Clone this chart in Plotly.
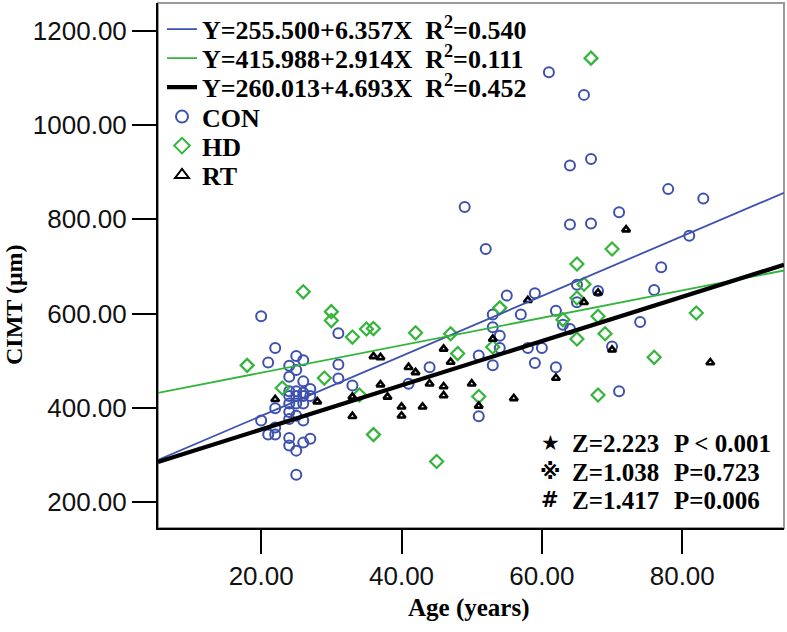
import plotly.graph_objects as go

# ---- data ----
con_age = [20, 22, 21, 25, 26, 24, 25, 24, 26, 24, 25, 26, 27, 24, 25, 26, 27, 24, 25, 26,
           22, 24, 25, 26, 20, 22, 21, 22, 24, 24, 25, 26, 27, 25, 24,
           31, 31, 31, 33, 41, 44, 49, 51, 51, 52, 53, 53, 53, 54, 54, 55, 57, 58, 59, 59,
           60, 61, 62, 62, 63, 64, 64, 64, 65, 65, 66, 67, 67, 68, 70, 71, 71, 74, 76, 77,
           78, 81, 83]
con_cimt = [594, 527, 496, 510, 501, 489, 480, 466, 456, 435, 435, 432, 440, 425, 425, 425, 425, 409, 409, 409,
            399, 391, 383, 373, 373, 358, 343, 343, 336, 320, 309, 326, 334, 258, 376,
            558, 492, 462, 447, 451, 486, 826, 511, 382, 737, 598, 571, 490, 553, 527, 638, 598, 527, 643, 495,
            527, 1112, 606, 486, 576, 567, 914, 789, 661, 624, 1064, 928, 791, 648, 530, 815, 435, 582, 650, 698,
            864, 765, 844]

hd_age = [18, 23, 26, 29, 30, 30, 33, 34, 35, 36, 36, 42, 45, 47, 48, 51, 53, 54, 63, 65,
          65, 65, 66, 67, 68, 68, 69, 70, 76, 82]
hd_cimt = [490, 442, 646, 463, 604, 585, 550, 427, 567, 568, 343, 559, 286, 557, 515, 424, 529, 612, 587, 705,
           633, 546, 662, 1142, 594, 427, 557, 737, 507, 601]

rt_age = [22, 28, 33, 33, 36, 37, 37, 38, 40, 40, 41, 42, 43, 44, 46, 46, 46, 47, 50, 51,
          53, 56, 58, 62, 66, 68, 70, 72, 84]
rt_cimt = [418, 413, 423, 382, 509, 507, 449, 423, 402, 383, 486, 475, 402, 451, 525, 445, 426, 497, 451, 404,
           546, 420, 628, 463, 624, 644, 523, 778, 496]

fit_intercepts = [255.500, 415.988, 260.013]
fit_slopes = [6.357, 2.914, 4.693]
fit_r2 = ["0.540", "0.111", "0.452"]

x_ticks = [20, 40, 60, 80]
y_ticks = [200, 400, 600, 800, 1000, 1200]

test_symbols = ["\u2605", "\u203b", "#"]
test_z = ["Z=2.223", "Z=1.038", "Z=1.417"]
test_p = ["P < 0.001", "P=0.723", "P=0.006"]

# ---- style ----
BLUE = "#3D51AE"
GREEN = "#33B53A"
BLACK = "#000000"
X_RANGE = [5.3, 94.5]
Y_RANGE = [144.8, 1259]
SERIF = "Liberation Serif, Times New Roman, serif"
SANS = "Liberation Sans, Arial, sans-serif"

fig = go.Figure()

line_colors = [BLUE, GREEN, BLACK]
line_widths = [1.8, 1.8, 4.2]
legend_ids = ["legend", "legend2", "legend3", "legend4", "legend5", "legend6"]
legend_rows_px = [29.3, 58.3, 87.3, 116.7, 145.7, 175]

# scatter groups
groups = [
    ("CON", con_age, con_cimt, "circle-open", BLUE, 10, 2.0),
    ("HD", hd_age, hd_cimt, "diamond-open", GREEN, 10, 2.2),
    ("RT", rt_age, rt_cimt, "triangle-up-open", BLACK, 7, 2.6),
]
for i, (name, ax, ay, sym, col, sz, lw) in enumerate(groups):
    fig.add_trace(go.Scatter(
        x=ax, y=ay, mode="markers", name="<b>%s</b>" % name,
        marker=dict(symbol=sym, size=sz, color=col, line=dict(color=col, width=lw)),
        legend=legend_ids[3 + i],
    ))

# fit lines
for i in range(3):
    a, b = fit_intercepts[i], fit_slopes[i]
    label = "<b>Y=%.3f+%.3fX\u00a0\u00a0R<sup>2</sup>=%s</b>" % (a, b, fit_r2[i])
    fig.add_trace(go.Scatter(
        x=X_RANGE, y=[a + b * X_RANGE[0], a + b * X_RANGE[1]],
        mode="lines", name=label,
        line=dict(color=line_colors[i], width=line_widths[i]),
        legend=legend_ids[i],
    ))

PLOT_TOP, PLOT_BOT, PLOT_L, PLOT_R = 3, 528, 158, 784
def py2paper(p):
    return (PLOT_BOT - p) / (PLOT_BOT - PLOT_TOP)
def px2paper(p):
    return (p - PLOT_L) / (PLOT_R - PLOT_L)

legend_layouts = {}
for i, lid in enumerate(legend_ids):
    legend_layouts[lid] = dict(
        x=px2paper(162), xanchor="left",
        y=py2paper(legend_rows_px[i]), yanchor="middle",
        bgcolor="rgba(0,0,0,0)", borderwidth=0,
        font=dict(family=SERIF, size=26, color="black"),
        itemsizing="trace" if i < 3 else "constant",
    )

annotations = []
rows_px = [443, 472, 500]
for i in range(3):
    yp = py2paper(rows_px[i])
    annotations.append(dict(x=px2paper(550), y=yp, xref="paper", yref="paper",
                            text="<b>%s</b>" % test_symbols[i], showarrow=False,
                            xanchor="center", yanchor="middle",
                            font=dict(family="DejaVu Sans, Noto Sans CJK SC", size=21, color="black")))
    annotations.append(dict(x=px2paper(570), y=yp, xref="paper", yref="paper",
                            text="<b>%s</b>" % test_z[i], showarrow=False,
                            xanchor="left", yanchor="middle",
                            font=dict(family=SERIF, size=25, color="black")))
    annotations.append(dict(x=px2paper(672), y=yp, xref="paper", yref="paper",
                            text="<b>%s</b>" % test_p[i], showarrow=False,
                            xanchor="left", yanchor="middle",
                            font=dict(family=SERIF, size=25, color="black")))

annotations.append(dict(x=px2paper(14), y=py2paper(305), xref="paper", yref="paper",
                        text="<b>CIMT (\u03bcm)</b>", showarrow=False, textangle=-90,
                        xanchor="center", yanchor="middle",
                        font=dict(family=SERIF, size=24, color="black")))
annotations.append(dict(x=px2paper(468), y=py2paper(608), xref="paper", yref="paper",
                        text="<b>Age (years)</b>", showarrow=False,
                        xanchor="center", yanchor="middle",
                        font=dict(family=SERIF, size=25, color="black")))

shapes = [dict(type="rect", xref="paper", yref="paper", x0=0, x1=1, y0=0, y1=1,
               line=dict(color="#9a9a9a", width=2), layer="below")]

fig.update_layout(
    width=787, height=632,
    margin=dict(l=PLOT_L, r=787 - PLOT_R, t=PLOT_TOP, b=632 - PLOT_BOT),
    paper_bgcolor="white", plot_bgcolor="white",
    showlegend=True,
    annotations=annotations,
    shapes=shapes,
    xaxis=dict(range=X_RANGE, tickvals=x_ticks, ticktext=["%.2f" % v for v in x_ticks],
               showgrid=False, zeroline=False, showline=True, linecolor="black", linewidth=2,
               ticks="outside", ticklen=24, tickwidth=2, tickcolor="black",
               tickfont=dict(family=SANS, size=26, color="#111")),
    yaxis=dict(range=Y_RANGE, tickvals=y_ticks, ticktext=["%.2f" % v for v in y_ticks],
               showgrid=False, zeroline=False, showline=True, linecolor="black", linewidth=2,
               ticks="outside", ticklen=24, tickwidth=2, tickcolor="black",
               tickfont=dict(family=SANS, size=26, color="#111")),
    **legend_layouts,
)

fig.write_html("out.html", config={"displayModeBar": False},
               post_script="document.body.style.margin='0px';")
